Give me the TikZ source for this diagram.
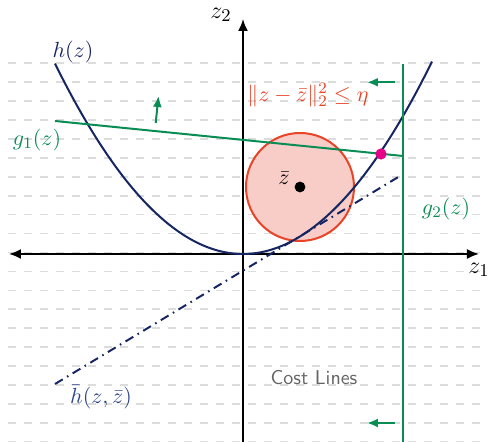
\documentclass[tikz,border=0pt]{standalone}
\usetikzlibrary{arrows.meta}
\definecolor{navy}{RGB}{22,38,98}
\definecolor{hbarcol}{RGB}{45,70,135}
\definecolor{cgreen}{RGB}{10,140,85}
\definecolor{cred}{RGB}{232,68,40}
\definecolor{cpink}{RGB}{248,205,200}
\definecolor{cmag}{RGB}{228,0,135}
\definecolor{gridcol}{RGB}{220,220,220}
\definecolor{costcol}{RGB}{100,100,100}
\tikzset{
  gridline/.style={draw=gridcol, line width=0.8pt, dash pattern=on 3.8pt off 4.2pt},
  axis/.style={draw=black, line width=0.9pt},
  tip/.style={-{Latex[length=6pt,width=5pt]}},
  gtip/.style={-{Latex[length=5.5pt,width=4.5pt]}},
  greenline/.style={draw=cgreen, line width=1pt},
  lbl/.style={font=\fontsize{11}{13}\selectfont, inner sep=0pt},
  axlbl/.style={font=\fontsize{12.5}{14}\selectfont, inner sep=0pt},
}
\begin{document}
\begin{tikzpicture}[x=0.5pt,y=-0.5pt]
\useasboundingbox (0,0) rectangle (489,442);
% grid
\foreach \k in {0,...,20}{
  \draw[gridline] (8,{63.3+\k*18.92}) -- (480,{63.3+\k*18.92});
}
% circle
\coordinate (zb) at (300,187);
\draw[draw=cred, fill=cpink, line width=1pt] (zb) circle[radius=27pt];
% axes
\coordinate (O) at (243,254);
\coordinate (xl) at (9,254);
\coordinate (xr) at (479,254);
\coordinate (yb) at (243,442);
\coordinate (yt) at (243,19);
\draw[axis, {Latex[length=6pt,width=5pt]}-{Latex[length=6pt,width=5pt]}] (xl) -- (xr);
\draw[axis, tip] (yb) -- (yt);
\node[axlbl] (z1) at (479,270) {$z_1$};
\node[axlbl] (z2) at (221,15) {$z_2$};
% h bar tangent
\coordinate (hb1) at (55,384);
\coordinate (hb2) at (400,176);
\draw[draw=navy, line width=1pt, dash pattern=on 4.5pt off 2.5pt on 0.8pt off 2.5pt] (hb1) -- (hb2);
\node[lbl, text=hbarcol] (hbl) at (101,397) {$\bar{h}(z,\bar{z})$};
% parabola h
\draw[draw=navy, line width=1pt] plot[smooth, samples=60, domain=55:432] (\x,{254-0.00538*(\x-243)*(\x-243)});
\node[lbl, text=navy] (hl) at (73,52) {$h(z)$};
% g1
\coordinate (g1a) at (55,121);
\coordinate (g1b) at (403,156);
\draw[greenline] (g1a) -- (g1b);
\node[lbl, text=cgreen] (g1l) at (37,140) {$g_1(z)$};
\coordinate (ga1) at (155.7,123);
\coordinate (ga2) at (158.5,96);
\draw[greenline, gtip] (ga1) -- (ga2);
% g2
\coordinate (g2a) at (403,64);
\coordinate (g2b) at (403,442);
\draw[greenline] (g2a) -- (g2b);
\node[lbl, text=cgreen] (g2l) at (446,209) {$g_2(z)$};
\coordinate (gb1) at (395,82.3);
\coordinate (gb2) at (367,82.3);
\draw[greenline, gtip] (gb1) -- (gb2);
\coordinate (gc1) at (395,423);
\coordinate (gc2) at (367,423);
\draw[greenline, gtip] (gc1) -- (gc2);
% points
\fill[black] (zb) circle[radius=2.7pt];
\node[lbl] (zbl) at (284,178) {$\bar{z}$};
\fill[cmag] (381,154) circle[radius=2.8pt];
\node[lbl, text=cred] (etal) at (308,95) {$\|z-\bar{z}\|_2^2\leq\eta$};
% cost lines
\node[font=\sffamily, text=costcol, inner sep=0pt] (cost) at (314,378) {Cost Lines};
\end{tikzpicture}
\end{document}
